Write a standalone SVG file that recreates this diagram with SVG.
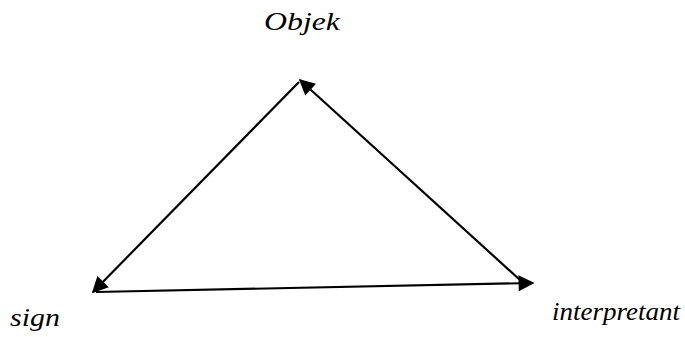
<svg xmlns="http://www.w3.org/2000/svg" width="685" height="337" viewBox="0 0 685 337">
<style>
.lbl{font-family:"Liberation Serif",serif;font-style:italic;font-size:26px;fill:#000}
.ln{stroke:#000;stroke-width:2.2;fill:none}
</style>
<defs>
<marker id="ah" viewBox="0 0 10 10" refX="9" refY="5" markerWidth="20" markerHeight="16" markerUnits="userSpaceOnUse" orient="auto">
<path d="M0,0 L10,5 L0,10 Z" fill="#000"/>
</marker>
</defs>
<rect width="685" height="337" fill="#fff"/>
<g id="connectors">
<line class="ln" x1="299" y1="82" x2="93" y2="292" marker-end="url(#ah)"/>
<line class="ln" x1="520" y1="280" x2="300" y2="80" marker-end="url(#ah)"/>
<line class="ln" x1="96" y1="292" x2="533" y2="283" marker-end="url(#ah)"/>
</g>
<g id="objek"><text class="lbl" x="264" y="30" textLength="76" lengthAdjust="spacingAndGlyphs">Objek</text></g>
<g id="sign"><text class="lbl" x="10" y="326" textLength="50" lengthAdjust="spacingAndGlyphs">sign</text></g>
<g id="interpretant"><text class="lbl" x="552" y="320" textLength="128" lengthAdjust="spacingAndGlyphs">interpretant</text></g>
</svg>
